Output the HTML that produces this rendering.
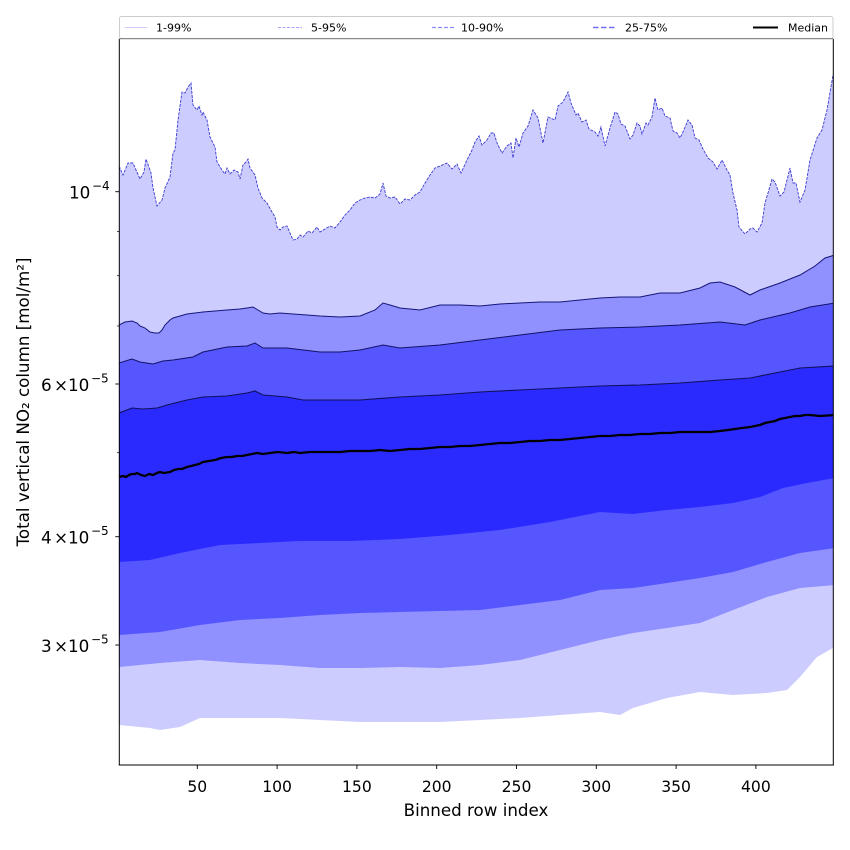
<!DOCTYPE html>
<html><head><meta charset="utf-8"><style>
html,body{margin:0;padding:0;background:#fff;}
svg{display:block;font-family:"DejaVu Sans","Liberation Sans",sans-serif;}
</style></head><body>
<svg width="850" height="850" viewBox="0 0 850 850" xmlns="http://www.w3.org/2000/svg">
<defs><clipPath id="ax"><rect x="119.3" y="39" width="714" height="726"/></clipPath></defs>
<rect width="850" height="850" fill="#fff"/>
<g clip-path="url(#ax)">
<!-- 1-99 band -->
<path fill="#ccccff" d="M119,170 L120,168 123,175 128,163 133,163 140,179 144,172 146,159 151,173 153,188 157,206 162,200 165,188 170,177 173,153 175,150 178,120 182,92 185,93 188,87 191,83 193,105 197,110 199,106 202,115 203,112 207,120 210,137 215,147 217,162 222,170 225,174 227,168 230,174 234,170 238,172 240,179 243,165 246,162 248,159 250,168 255,175 258,188 262,198 267,203 272,212 275,217 277,227 280,230 283,227 287,226 290,233 293,240 297,239 300,235 303,237 308,231 312,233 317,227 320,232 325,229 330,226 335,228 340,222 345,215 350,210 355,203 360,200 365,198 370,197 375,198 380,194 383,183 386,196 390,198 395,197 400,204 405,199 410,200 415,195 420,192 425,183 430,175 435,168 440,166 447,163 452,169 457,164 461,173 467,160 472,150 475,142 479,136 482,145 487,140 491,133 494,133 497,143 502,153 507,146 511,143 513,158 516,138 519,147 523,133 528,126 533,110 538,118 543,143 548,117 555,120 558,106 563,102 568,92 571,103 576,115 578,113 582,122 586,120 589,129 595,132 598,136 601,127 605,146 610,128 615,112 618,114 621,124 625,126 630,139 633,135 637,123 640,126 642,134 646,123 648,125 652,117 655,98 658,110 662,108 665,116 670,118 673,131 677,133 680,138 683,132 688,120 692,125 695,138 699,140 703,149 708,158 713,162 717,169 722,160 727,170 730,175 733,193 737,210 739,227 745,234 750,229 753,228 757,232 762,223 765,203 768,193 772,179 775,182 780,196 784,192 790,168 793,183 796,183 800,202 805,190 810,160 817,138 822,130 827,110 833,75 835,70
L835,646 833,648 817,657 800,677 787,690 767,693 733,695 700,692 667,698 633,708 620,715 600,712 560,715 520,718 480,720 440,722 400,722 360,722 320,720 280,718 240,718 200,718 180,727 160,730 150,728 119,725 Z"/>
<!-- 5-95 band -->
<path fill="#9090ff" d="M119,325 L125,322 132,321 137,323 140,326 145,328 150,332 155,333 159,333 162,330 165,325 170,320 173,318 180,316 187,314 195,313 203,312 215,311 227,310 240,309 247,308 253,307 258,310 263,313 270,314 280,313 293,314 307,315 320,316 340,317 360,316 375,310 383,303 390,305 400,308 420,310 440,305 460,305 480,306 500,304 520,303 540,302 560,302 580,300 600,298 620,297 640,297 660,293 680,293 700,288 710,283 720,282 735,287 750,295 760,290 780,283 800,275 815,266 825,258 835,255
L835,585 800,588 767,597 733,610 700,623 667,628 633,633 600,640 560,650 520,660 480,665 440,668 400,667 360,668 320,668 280,665 240,663 200,660 160,663 119,667 Z"/>
<!-- 10-90 band -->
<path fill="#5656ff" d="M119,363 L132,359 140,362 153,364 163,361 173,360 193,357 203,352 227,347 247,346 255,343 263,348 287,348 320,352 340,352 360,350 383,345 400,348 440,345 480,340 520,335 560,330 600,328 640,327 680,325 720,322 745,325 760,320 790,313 810,307 835,303
L835,548 800,553 767,562 733,572 700,578 667,583 633,588 600,590 560,600 520,605 480,610 440,611 400,612 360,613 320,615 280,618 240,620 200,625 160,632 119,635 Z"/>
<!-- 25-75 band -->
<path fill="#2a2aff" d="M119,413 L132,408 143,409 157,408 167,405 187,400 203,397 227,396 247,393 255,391 263,395 287,397 303,400 320,400 360,400 400,397 440,395 480,392 520,390 560,388 600,386 640,385 680,383 720,380 750,378 780,372 800,368 835,366
L835,478 807,483 783,488 760,497 733,503 700,507 667,510 633,514 600,512 550,522 500,530 450,535 400,539 350,541 300,541 260,543 220,545 180,553 150,560 119,562 Z"/>
<!-- upper lines -->
<polyline fill="none" stroke="#3b3bd0" stroke-width="0.9" stroke-dasharray="3,1.2" points="119,170 120,168 123,175 128,163 133,163 140,179 144,172 146,159 151,173 153,188 157,206 162,200 165,188 170,177 173,153 175,150 178,120 182,92 185,93 188,87 191,83 193,105 197,110 199,106 202,115 203,112 207,120 210,137 215,147 217,162 222,170 225,174 227,168 230,174 234,170 238,172 240,179 243,165 246,162 248,159 250,168 255,175 258,188 262,198 267,203 272,212 275,217 277,227 280,230 283,227 287,226 290,233 293,240 297,239 300,235 303,237 308,231 312,233 317,227 320,232 325,229 330,226 335,228 340,222 345,215 350,210 355,203 360,200 365,198 370,197 375,198 380,194 383,183 386,196 390,198 395,197 400,204 405,199 410,200 415,195 420,192 425,183 430,175 435,168 440,166 447,163 452,169 457,164 461,173 467,160 472,150 475,142 479,136 482,145 487,140 491,133 494,133 497,143 502,153 507,146 511,143 513,158 516,138 519,147 523,133 528,126 533,110 538,118 543,143 548,117 555,120 558,106 563,102 568,92 571,103 576,115 578,113 582,122 586,120 589,129 595,132 598,136 601,127 605,146 610,128 615,112 618,114 621,124 625,126 630,139 633,135 637,123 640,126 642,134 646,123 648,125 652,117 655,98 658,110 662,108 665,116 670,118 673,131 677,133 680,138 683,132 688,120 692,125 695,138 699,140 703,149 708,158 713,162 717,169 722,160 727,170 730,175 733,193 737,210 739,227 745,234 750,229 753,228 757,232 762,223 765,203 768,193 772,179 775,182 780,196 784,192 790,168 793,183 796,183 800,202 805,190 810,160 817,138 822,130 827,110 833,75 835,70"/>
<polyline fill="none" stroke="#16167a" stroke-width="1" points="119,325 125,322 132,321 137,323 140,326 145,328 150,332 155,333 159,333 162,330 165,325 170,320 173,318 180,316 187,314 195,313 203,312 215,311 227,310 240,309 247,308 253,307 258,310 263,313 270,314 280,313 293,314 307,315 320,316 340,317 360,316 375,310 383,303 390,305 400,308 420,310 440,305 460,305 480,306 500,304 520,303 540,302 560,302 580,300 600,298 620,297 640,297 660,293 680,293 700,288 710,283 720,282 735,287 750,295 760,290 780,283 800,275 815,266 825,258 835,255"/>
<polyline fill="none" stroke="#121268" stroke-width="1" points="119,363 132,359 140,362 153,364 163,361 173,360 193,357 203,352 227,347 247,346 255,343 263,348 287,348 320,352 340,352 360,350 383,345 400,348 440,345 480,340 520,335 560,330 600,328 640,327 680,325 720,322 745,325 760,320 790,313 810,307 835,303"/>
<polyline fill="none" stroke="#10105a" stroke-width="1.1" points="119,413 132,408 143,409 157,408 167,405 187,400 203,397 227,396 247,393 255,391 263,395 287,397 303,400 320,400 360,400 400,397 440,395 480,392 520,390 560,388 600,386 640,385 680,383 720,380 750,378 780,372 800,368 835,366"/>
<!-- median -->
<polyline fill="none" stroke="#000" stroke-width="2.3" stroke-linejoin="round" points="119,477 123,476 126,477 129,475 132,474 135,474 137,473 141,475 145,476 149,474 153,475 157,473 160,472 164,473 170,472 174,470 178,469 182,469 187,467 191,466 195,465 199,464 203,462 209,461 215,460 221,458 227,457 232,457 237,456 242,456 247,455 252,454 257,453 263,454 270,453 278,452 287,453 294,452 300,453 310,452 320,452 330,452 340,452 350,451 360,451 370,451 380,450 390,451 400,450 410,449 420,449 430,448 440,447 450,447 460,446 470,446 480,445 490,444 500,443 510,443 520,442 530,441 540,441 550,440 560,440 570,439 580,438 590,437 600,436 610,436 620,435 630,435 640,434 650,434 660,433 670,433 680,432 690,432 700,432 710,432 720,431 728,430 735,429 742,428 750,427 755,426 760,425 765,423 770,422 775,421 780,419 785,418 790,417 795,416 800,416 805,415 810,415 820,416 835,415"/>
</g>
<!-- spines -->
<g stroke="#000" stroke-width="1" fill="none">
<line x1="119.3" y1="39" x2="119.3" y2="765.5"/>
<line x1="833.3" y1="39" x2="833.3" y2="765.5"/>
<line x1="118.8" y1="765" x2="833.8" y2="765"/>
</g>
<!-- x ticks -->
<g stroke="#000" stroke-width="0.9">
<line x1="197.3" y1="765" x2="197.3" y2="769"/>
<line x1="277.1" y1="765" x2="277.1" y2="769"/>
<line x1="356.9" y1="765" x2="356.9" y2="769"/>
<line x1="436.7" y1="765" x2="436.7" y2="769"/>
<line x1="516.5" y1="765" x2="516.5" y2="769"/>
<line x1="596.3" y1="765" x2="596.3" y2="769"/>
<line x1="676.1" y1="765" x2="676.1" y2="769"/>
<line x1="755.9" y1="765" x2="755.9" y2="769"/>
</g>
<g font-size="15.6" text-anchor="middle" fill="#000">
<text x="197.3" y="792">50</text>
<text x="277.1" y="792">100</text>
<text x="356.9" y="792">150</text>
<text x="436.7" y="792">200</text>
<text x="516.5" y="792">250</text>
<text x="596.3" y="792">300</text>
<text x="676.1" y="792">350</text>
<text x="755.9" y="792">400</text>
</g>
<!-- y ticks -->
<g stroke="#000" stroke-width="0.9">
<line x1="115.3" y1="191.7" x2="119.3" y2="191.7"/>
<line x1="115.3" y1="384" x2="119.3" y2="384"/>
<line x1="115.3" y1="536.7" x2="119.3" y2="536.7"/>
<line x1="115.3" y1="645" x2="119.3" y2="645"/>
</g>
<g stroke="#000" stroke-width="0.7">
<line x1="117" y1="231.4" x2="119.3" y2="231.4"/>
<line x1="117" y1="275.7" x2="119.3" y2="275.7"/>
<line x1="117" y1="326" x2="119.3" y2="326"/>
<line x1="117" y1="452.7" x2="119.3" y2="452.7"/>
</g>
<g fill="#000">
<text x="69" y="198.5" font-size="16.8">10</text>
<text x="92" y="190" font-size="12">−4</text>

<text x="41" y="390.8" font-size="16.8">6</text>
<text x="54" y="390.8" font-size="16.8">×</text>
<text x="68" y="390.8" font-size="16.8">10</text>
<text x="91" y="382.3" font-size="12">−5</text>

<text x="41" y="543.5" font-size="16.8">4</text>
<text x="54" y="543.5" font-size="16.8">×</text>
<text x="68" y="543.5" font-size="16.8">10</text>
<text x="91" y="535" font-size="12">−5</text>

<text x="41" y="651.8" font-size="16.8">3</text>
<text x="54" y="651.8" font-size="16.8">×</text>
<text x="68" y="651.8" font-size="16.8">10</text>
<text x="91" y="643.3" font-size="12">−5</text>
</g>
<!-- axis labels -->
<text x="476" y="816" font-size="16.7" text-anchor="middle" fill="#000">Binned row index</text>
<text transform="translate(29,402) rotate(-90)" font-size="16.7" text-anchor="middle" fill="#000">Total vertical NO₂ column [mol/m²]</text>
<!-- legend -->
<rect x="119.5" y="16.5" width="713.5" height="22" rx="2" fill="#fff" fill-opacity="0.85" stroke="#cccccc" stroke-width="1"/>
<line x1="119.3" y1="38.6" x2="833.3" y2="38.6" stroke="#8a8a8a" stroke-width="1.3"/>
<line x1="125" y1="27.5" x2="147" y2="27.5" stroke="#d0d0ff" stroke-width="1"/>
<line x1="278" y1="27.5" x2="302" y2="27.5" stroke="#a4a4ff" stroke-width="1" stroke-dasharray="3,1.5"/>
<line x1="432" y1="27.5" x2="456" y2="27.5" stroke="#8c8cff" stroke-width="1.2" stroke-dasharray="4,2"/>
<line x1="593" y1="27.5" x2="617" y2="27.5" stroke="#7070ff" stroke-width="1.5" stroke-dasharray="5.5,2.5"/>
<line x1="753" y1="27.5" x2="778" y2="27.5" stroke="#000" stroke-width="2"/>
<g font-size="11" fill="#000">
<text x="156" y="31.5">1-99%</text>
<text x="311" y="31.5">5-95%</text>
<text x="461" y="31.5">10-90%</text>
<text x="625" y="31.5">25-75%</text>
<text x="788" y="31.5">Median</text>
</g>
</svg>
</body></html>
